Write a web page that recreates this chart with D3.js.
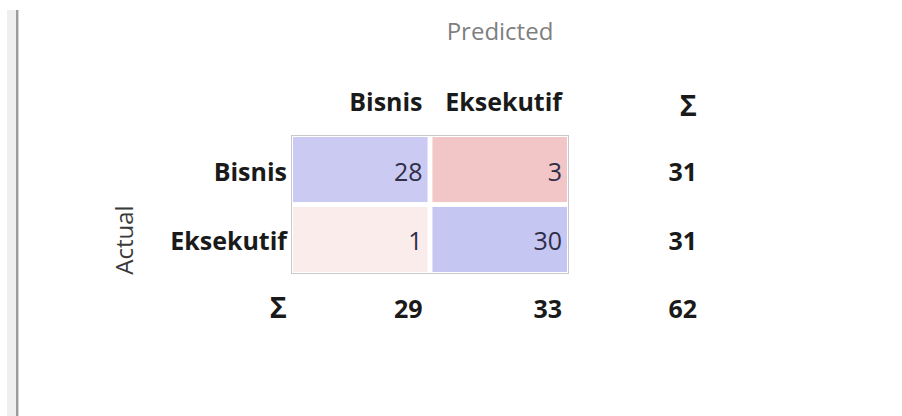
<!DOCTYPE html>
<html>
<head>
<meta charset="utf-8">
<script src="https://cdn.jsdelivr.net/npm/d3@7"></script>
<style>
  body { margin: 0; background: #fff; }
  text { font-family: "Open Sans", "Noto Sans", sans-serif; }
</style>
</head>
<body>
<div class="canva"></div>
<script>
const canvas = d3.select(".canva");

// confusion matrix: rows = actual, columns = predicted
var classes = ["Bisnis", "Eksekutif"];
var actualBisnis = [28, 3];
var actualEksekutif = [1, 30];
var matrix = [actualBisnis, actualEksekutif];

var rowTotals = matrix.map(r => d3.sum(r));
var colTotals = classes.map((c, j) => d3.sum(matrix, r => r[j]));
var grandTotal = d3.sum(rowTotals);

const svg = canvas.append("svg")
                  .attr("width", 902)
                  .attr("height", 416);

// left splitter bar
svg.append("rect").attr("x", 7).attr("y", 10).attr("width", 9).attr("height", 406).attr("fill", "#efefef");
svg.append("rect").attr("x", 16).attr("y", 10).attr("width", 2).attr("height", 406).attr("fill", "#9c9c9c");
svg.append("rect").attr("x", 18).attr("y", 10).attr("width", 1).attr("height", 406).attr("fill", "#d4d4d4");

var x = d3.scaleBand()
          .domain(classes)
          .range([293, 567])
          .paddingInner(0.035);

var y = d3.scaleBand()
          .domain(classes)
          .range([137, 272])
          .paddingInner(0.07);

var totalX = 697;
var labelX = 287;
var bottomY = 318;
var headerY = 111;

var diagMax = d3.max(classes, (c, i) => matrix[i][i]);
var offMax = d3.max(matrix.flatMap((r, i) => r.filter((v, j) => j !== i)));

var blue = d3.scaleLinear().domain([0, diagMax]).range(["#ffffff", "#c6c6f2"]);
var red = d3.scaleLinear().domain([0, offMax]).range(["#ffffff", "#f2c6c6"]);

var cells = [];
matrix.forEach((r, i) => r.forEach((v, j) => cells.push({actual: classes[i], predicted: classes[j], diag: i === j, value: v})));

// outer frame
svg.append("rect")
   .attr("x", 291.5).attr("y", 135.5)
   .attr("width", 277).attr("height", 138)
   .attr("fill", "#fff")
   .attr("stroke", "#c9c9c9");

svg.selectAll(".cell")
   .data(cells)
   .enter()
   .append("rect")
   .attr("class", "cell")
   .attr("x", d => x(d.predicted))
   .attr("y", d => y(d.actual))
   .attr("width", x.bandwidth())
   .attr("height", y.bandwidth())
   .attr("fill", d => d.diag ? blue(d.value) : red(d.value));

var rowBase = d => y(d) + y.bandwidth() / 2 + 11;

svg.selectAll(".cellText")
   .data(cells)
   .enter()
   .append("text")
   .attr("x", d => x(d.predicted) + x.bandwidth() - 5)
   .attr("y", d => rowBase(d.actual))
   .attr("text-anchor", "end")
   .attr("font-size", 25)
   .attr("fill", "#2e2e48")
   .text(d => d.value);

// headers
svg.append("text")
   .attr("x", 500).attr("y", 40)
   .attr("text-anchor", "middle")
   .attr("font-size", 24)
   .attr("fill", "#7f7f7f")
   .text("Predicted");

svg.append("text")
   .attr("transform", "translate(133,240) rotate(-90)")
   .attr("text-anchor", "middle")
   .attr("font-size", 24)
   .attr("fill", "#3a3a3a")
   .text("Actual");

svg.selectAll(".colHead")
   .data(classes)
   .enter()
   .append("text")
   .attr("x", d => x(d) + x.bandwidth() - 5)
   .attr("y", headerY)
   .attr("text-anchor", "end")
   .attr("font-size", 25)
   .attr("font-weight", "bold")
   .attr("fill", "#1a1a1a")
   .text(d => d);

svg.selectAll(".rowHead")
   .data(classes)
   .enter()
   .append("text")
   .attr("x", labelX)
   .attr("y", d => rowBase(d))
   .attr("text-anchor", "end")
   .attr("font-size", 25)
   .attr("font-weight", "bold")
   .attr("fill", "#1a1a1a")
   .text(d => d);

// sums
var bold = sel => sel.attr("font-size", 25).attr("font-weight", "bold").attr("fill", "#1a1a1a");

svg.append("text").attr("x", totalX).attr("y", headerY + 5).attr("text-anchor", "end").call(bold).attr("font-size", 29).text("Σ");
svg.append("text").attr("x", labelX).attr("y", bottomY).attr("text-anchor", "end").call(bold).attr("font-size", 29).text("Σ");

svg.selectAll(".rowTotal")
   .data(rowTotals)
   .enter()
   .append("text")
   .attr("x", totalX)
   .attr("y", (d, i) => rowBase(classes[i]))
   .attr("text-anchor", "end")
   .call(bold)
   .text(d => d);

svg.selectAll(".colTotal")
   .data(colTotals)
   .enter()
   .append("text")
   .attr("x", (d, i) => x(classes[i]) + x.bandwidth() - 5)
   .attr("y", bottomY)
   .attr("text-anchor", "end")
   .call(bold)
   .text(d => d);

svg.append("text").attr("x", totalX).attr("y", bottomY).attr("text-anchor", "end").call(bold).text(grandTotal);
</script>
</body>
</html>
